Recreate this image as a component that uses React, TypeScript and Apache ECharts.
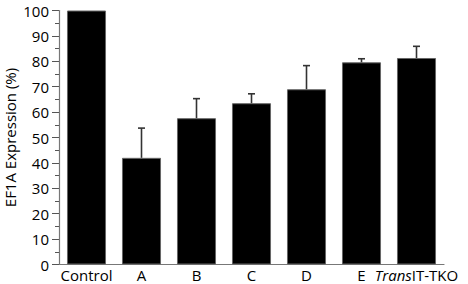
import React, { useEffect, useRef } from "react";
import * as echarts from "echarts";

const categories = ["Control", "A", "B", "C", "D", "E", "TransIT-TKO"];
const values = [100, 42, 57.6, 63.5, 69, 79.6, 81.3];
const errors = [0, 11.7, 7.7, 3.7, 9.3, 1.4, 4.6];
const yTicks = [0, 10, 20, 30, 40, 50, 60, 70, 80, 90, 100];

const FONT = "Open Sans";
const FS = 15;

export default function App() {
  const ref = useRef<HTMLDivElement>(null);
  useEffect(() => {
    document.body.style.margin = "0";
    if (!ref.current) return;
    const chart = echarts.init(ref.current, null, { renderer: "svg" });
    const errData = categories.map((c, i) => [i, values[i], errors[i]]);
    chart.setOption({
      animation: false,
      grid: {
        left: 59,
        right: 24,
        top: 10.5,
        bottom: 19.5,
        containLabel: false,
        outerBoundsMode: "none",
      },
      xAxis: {
        type: "category",
        data: categories,
        axisLine: { lineStyle: { color: "#777", width: 1.2 } },
        axisTick: { show: false },
        axisLabel: {
          margin: 3,
          interval: 0,
          color: "#000",
          fontFamily: FONT,
          fontSize: FS,
          lineHeight: FS,
          formatter: (v: string) =>
            v === "TransIT-TKO" ? "{i|Trans}{n|IT-TKO}" : v,
          rich: {
            i: { fontStyle: "italic", fontFamily: FONT, fontSize: FS, lineHeight: FS, color: "#000" },
            n: { fontFamily: FONT, fontSize: FS, lineHeight: FS, color: "#000" },
          },
        },
      },
      yAxis: {
        type: "value",
        min: yTicks[0],
        max: yTicks[yTicks.length - 1],
        interval: 10,
        name: "EF1A Expression (%)",
        nameLocation: "middle",
        nameGap: 42,
        nameMoveOverlap: false,
        nameTextStyle: { color: "#000", fontFamily: FONT, fontSize: FS, lineHeight: FS },
        axisLine: { show: true, lineStyle: { color: "#777", width: 1.2 } },
        axisTick: { show: true, length: 7, lineStyle: { color: "#555" } },
        minorTick: { show: true, splitNumber: 2, length: 4, lineStyle: { color: "#555" } },
        splitLine: { show: false },
        axisLabel: { margin: 10, color: "#000", fontFamily: FONT, fontSize: FS },
      },
      series: [
        {
          type: "bar",
          data: values,
          barCategoryGap: "29%",
          itemStyle: { color: "#000", borderColor: "#666", borderWidth: 1 },
          z: 2,
        },
        {
          type: "custom",
          data: errData,
          z: 3,
          renderItem: (params: any, api: any) => {
            const x = api.value(0);
            const v = api.value(1);
            const e = api.value(2);
            if (!e) return null;
            const b = api.coord([x, v]);
            const t = api.coord([x, v + e]);
            const style = { stroke: "#333", lineWidth: 1.6 };
            return {
              type: "group",
              children: [
                { type: "line", shape: { x1: b[0], y1: b[1], x2: t[0], y2: t[1] }, style },
                { type: "line", shape: { x1: t[0] - 3.5, y1: t[1], x2: t[0] + 3.5, y2: t[1] }, style },
              ],
            };
          },
        },
      ],
    });
    return () => chart.dispose();
  }, []);
  return <div ref={ref} style={{ width: 468, height: 284 }} />;
}
